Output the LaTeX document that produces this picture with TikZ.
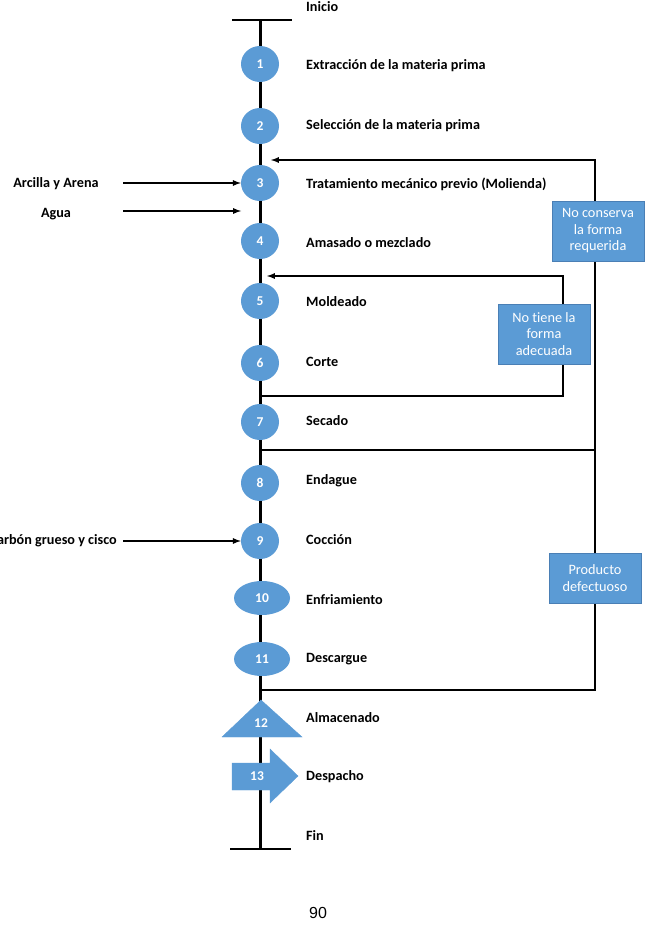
\documentclass[tikz,border=0pt]{standalone}
\usepackage{fontspec}
\setmainfont{Carlito}[Ligatures=NoCommon]
\newfontfamily\pagefont{Liberation Sans}
\usetikzlibrary{positioning}
\usetikzlibrary{shapes.geometric}

\definecolor{azul}{HTML}{5B9BD5}
\definecolor{azulborde}{HTML}{4A7FB5}

\begin{document}
\begin{tikzpicture}[x=1pt,y=-1pt,
	paso/.style={ellipse, fill=azul, text=white, font=\bfseries\fontsize{13.5}{15}\selectfont,
		minimum width=38pt, minimum height=36pt, inner sep=0pt},
	pasoancho/.style={paso, minimum width=56pt, minimum height=34pt},
	etiqueta/.style={anchor=west, inner sep=0pt, font=\bfseries\fontsize{14.2}{16}\selectfont},
	entrada/.style={inner sep=0pt, font=\bfseries\fontsize{14.2}{16}\selectfont},
	aviso/.style={rectangle, fill=azul, draw=azulborde, text=white, align=center,
		font=\fontsize{14.3}{16.5}\selectfont, minimum width=92pt, minimum height=60pt, inner sep=1pt},
	linea/.style={line width=1.7pt},
	flecha/.style={line width=1.7pt, -latex}]

	\clip (0,0) rectangle (647,936);

	% main line
	\coordinate (top) at (260,20);
	\coordinate (bot) at (260,849);
	\coordinate (topL) at (232,20);
	\coordinate (topR) at (292,20);
	\coordinate (botL) at (230,849);
	\coordinate (botR) at (291,849);

	\draw[line width=3pt] (top) -- (bot);
	\draw[linea] (topL) -- (topR);
	\draw[linea] (botL) -- (botR);

	% feedback loops
	\coordinate (r1) at (260,690);
	\coordinate (r2) at (595,690);
	\coordinate (r3) at (595,160);
	\coordinate (r4) at (271,160);
	\coordinate (q1) at (260,450);
	\coordinate (q2) at (595,450);
	\coordinate (p1) at (260,396);
	\coordinate (p2) at (563,396);
	\coordinate (p3) at (563,276);
	\coordinate (p4) at (267,276);

	\draw[flecha] (r1) -- (r2) -- (r3) -- (r4);
	\draw[linea] (q1) -- (q2);
	\draw[flecha] (p1) -- (p2) -- (p3) -- (p4);

	% steps
	\node[paso] (s1) at (260,64) {1};
	\node[paso] (s2) at (260,126) {2};
	\node[paso] (s3) at (260,183) {3};
	\node[paso] (s4) at (260,241) {4};
	\node[paso] (s5) at (260,301) {5};
	\node[paso] (s6) at (260,363) {6};
	\node[paso] (s7) at (260,422) {7};
	\node[paso] (s8) at (260,483) {8};
	\node[paso] (s9) at (260,541) {9};
	\node[pasoancho] (s10) at (262,598) {10};
	\node[pasoancho] (s11) at (262,659) {11};

	% storage and dispatch
	\filldraw[fill=azul, draw=azul] (261,700) -- (302,737) -- (222,737) -- cycle;
	\node[text=white, font=\bfseries\fontsize{13.5}{15}\selectfont] (s12) at (261,723) {12};
	\filldraw[fill=azul, draw=azul] (232,763) -- (270,763) -- (270,749) -- (298,776)
		-- (270,803) -- (270,790) -- (232,790) -- cycle;
	\node[text=white, font=\bfseries\fontsize{13.5}{15}\selectfont] (s13) at (257,776) {13};

	% labels
	\node[etiqueta] (l0) at (306,7) {Inicio};
	\node[etiqueta] (l1) at (306,66) {Extracción de la materia prima};
	\node[etiqueta] (l2) at (306,126) {Selección de la materia prima};
	\node[etiqueta] (l3) at (306,184) {Tratamiento mecánico previo (Molienda)};
	\node[etiqueta] (l4) at (306,243) {Amasado o mezclado};
	\node[etiqueta] (l5) at (306,302) {Moldeado};
	\node[etiqueta] (l6) at (306,362) {Corte};
	\node[etiqueta] (l7) at (306,421) {Secado};
	\node[etiqueta] (l8) at (306,481) {Endague};
	\node[etiqueta] (l9) at (306,540) {Cocción};
	\node[etiqueta] (l10) at (306,600) {Enfriamiento};
	\node[etiqueta] (l11) at (306,659) {Descargue};
	\node[etiqueta] (l12) at (306,718) {Almacenado};
	\node[etiqueta] (l13) at (306,777) {Despacho};
	\node[etiqueta] (l14) at (306,836) {Fin};

	% inputs
	\node[entrada] (arcilla) at (56,184) {Arcilla y Arena};
	\node[entrada] (agua) at (56,214) {Agua};
	\node[entrada, anchor=east] (carbon) at (117,541) {Carbón grueso y cisco};

	\coordinate (a1) at (123,183);
	\coordinate (a2) at (123,211);
	\coordinate (a3) at (241,211);
	\coordinate (a4) at (123,541);

	\draw[flecha] (a1) -- (s3.west);
	\draw[flecha] (a2) -- (a3);
	\draw[flecha] (a4) -- (s9.west);

	% notes
	\node[aviso] (n1) at (598,231) {No conserva\\la forma\\requerida};
	\node[aviso] (n2) at (544,334) {No tiene la\\forma\\adecuada};
	\node[aviso, minimum height=50pt] (n3) at (595,578) {Producto\\defectuoso};

	\node[font=\pagefont\fontsize{16}{18}\selectfont] (pag) at (318,913) {90};

\end{tikzpicture}
\end{document}
